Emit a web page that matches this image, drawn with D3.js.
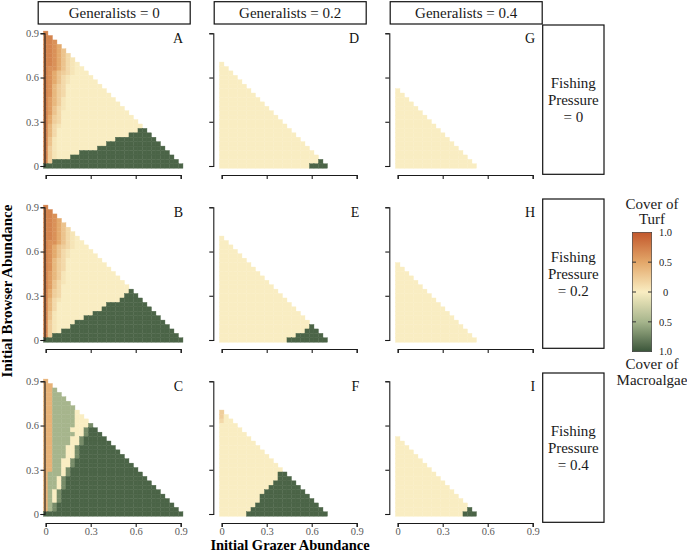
<!DOCTYPE html>
<html><head><meta charset="utf-8">
<script src="https://cdn.jsdelivr.net/npm/d3@7"></script>
<style>
body{margin:0;background:#fff}
svg{display:block;font-family:"Liberation Serif","DejaVu Serif",serif}
text{font-family:"Liberation Serif","DejaVu Serif",serif}
</style>
</head><body>
<svg id="chart" width="687" height="553"></svg>
<script>
// ---------------- data ----------------
const generalistLevels = ["0", "0.2", "0.4"];
const fishingLevels = ["0", "0.2", "0.4"];
const panelLetters = ["A", "B", "C", "D", "E", "F", "G", "H", "I"]; // column by column
const axisTicks = [0, 0.3, 0.6, 0.9];
const axisTickLabels = ["0", "0.3", "0.6", "0.9"];
const legendValues = [1, 0.5, 0, -0.5, -1];
const legendLabels = ["1.0", "0.5", "0", "0.5", "1.0"];
const legendInnerTicks = [0.5, 0, -0.5];
const cellStep = 0.03;
// cover value of each cell code: positive = turf, negative = macroalgae
const cellCodes = {
  R: 0.72, S: 0.64, O: 0.56, P: 0.48, L: 0.42, o: 0.38, Q: 0.3, q: 0.22, u: 0.14, w: 0.06,
  ".": 0, G: -0.5, h: -0.72, M: -0.92
};

// rows are listed from the top row down to the bottom row (initial browser = 0)
// each token: code followed by a repeat count
const panelA = [
  "R", "R2", "R2 S", "R2 S P", "R2 S P Q", "R2 S P Q u", "R2 S P Q u w", "R2 S P Q u w .",
  "R S2 P Q u w .2", "R S P Q q u w .3", "R S P Q u w .5", "R S P Q u w .6",
  "R S o q u .8", "R S o q u .9", "R S o q u .10", "R O o q w .11", "R O o q w .12",
  "R O Q u w .13", "R O Q u .15", "R P q u .16", "R P q u .17",
  "R o u w .18", "R o u .18 M2", "R o u .16 M5", "R Q w .13 M9", "R Q w .11 M12",
  "R q w .9 M15", "R q w .5 M20", "R q w .3 M23", "R q M28", "M31"
];
const panelB = [
  "R", "R2", "R2 S", "R2 S P", "R2 S P Q", "R2 S P Q u", "R2 S P Q u w", "R2 S P Q u w .",
  "R S2 P Q u w .2", "R S P Q q u w .3", "R S P Q u w .5", "R S P Q u w .6",
  "R S o q u .8", "R S o q u .9", "R S o q u .10", "R O o q w .11", "R O o q w .12",
  "R O Q u w .13", "R O Q u .15", "R P q u .15 M", "R P q u .14 M3",
  "R o u w .13 M5", "R o u .11 M9", "R o u .10 M11", "R Q w .8 M14", "R Q w .6 M17",
  "R q w .4 M20", "R q w .3 M22", "R q w . M25", "R q M28", "M31"
];
const panelC = [
  "L", "L2", "L2 G", "L2 G2", "L2 G3", "L2 G4", "L2 G5", "L2 G5 .", "L2 G5 .2",
  "L2 G5 .3", "L2 G5 .3 h", "L2 G4 .3 h M2", "L2 G5 .2 h M3", "L2 G4 .2 h M5",
  "L2 G4 .2 h M6", "L2 G3 .2 h M8", "L2 G3 .2 h M9", "L2 G3 .2 h M10",
  "L2 G2 .2 h M12", "L2 G2 .2 h M13", "L2 G2 . h M15", "L G3 . h M16",
  "L G2 . h M18", "L G2 . h M19", "L G2 . h M20", "L G . h M22", "L G . h M23",
  "L G . h M24", "L G h M26", "L G h M27", "M31"
];
const panelD = [
  ".1", ".2", ".3", ".4", ".5", ".6", ".7", ".8", ".9", ".10", ".11", ".12",
  ".13", ".14", ".15", ".16", ".17", ".18", ".19", ".20", ".21", ".22",
  ".22 M", ".20 M4"
];
const panelE = [
  ".1", ".2", ".3", ".4", ".5", ".6", ".7", ".8", ".9", ".10", ".11", ".12",
  ".13", ".14", ".15", ".16", ".17", ".18", ".19", ".20",
  ".20 M", ".19 M3", ".17 M6", ".15 M9"
];
const panelF = [
  "q", "q .", "u .2", ".4", ".5", ".6", ".7", ".8", ".9", ".10", ".11", ".12",
  ".13", ".14", ".13 M2", ".13 M3", ".12 M5", ".11 M7", ".10 M9", ".9 M11",
  ".9 M12", ".8 M14", ".7 M16", ".6 M18"
];
const panelG = [
  ".1", ".2", ".3", ".4", ".5", ".6", ".7", ".8", ".9", ".10", ".11", ".12",
  ".13", ".14", ".15", ".16", ".17", ".18"
];
const panelH = [
  ".1", ".2", ".3", ".4", ".5", ".6", ".7", ".8", ".9", ".10", ".11", ".12",
  ".13", ".14", ".15", ".16", ".17", ".18"
];
const panelI = [
  ".1", ".2", ".3", ".4", ".5", ".6", ".7", ".8", ".9", ".10", ".11", ".12",
  ".13", ".14", ".15", ".16", ".16 M", ".15 M3"
];

// ---------------- drawing ----------------
const panels = [panelA, panelB, panelC, panelD, panelE, panelF, panelG, panelH, panelI];
const svg = d3.select("#chart");
const serif = '"Liberation Serif", "DejaVu Serif", serif';
const color = d3.scaleLinear()
  .domain([-1, -0.5, 0, 0.5, 1])
  .range(["#3a553a", "#a6b58c", "#f9edc2", "#e3a769", "#c2572c"]);

const colX0 = [45.7, 221.7, 397.7];
const rowY0 = [166, 340, 514];
const yAxisX = [44.5, 213.3, 389.3];
const plotW = 135, plotH = 132.7;

function parseRow(str) {
  const out = [];
  str.trim().split(/\s+/).forEach(tok => {
    const ch = tok[0];
    const n = tok.length > 1 ? +tok.slice(1) : 1;
    for (let k = 0; k < n; k++) out.push(cellCodes[ch]);
  });
  return out;
}

function styleAxis(g) {
  g.attr("font-family", serif);
  g.select(".domain").attr("stroke", "#1a1a1a").attr("stroke-width", 1.1);
  g.selectAll(".tick line").attr("stroke", "#1a1a1a").attr("stroke-width", 1.1);
  g.selectAll(".tick text").attr("fill", "#5a5a5a")
    .style("font-family", serif).style("font-size", "10.5px");
}

function label(x, y, t, size, opts = {}) {
  const el = svg.append("text").attr("x", x).attr("y", y)
    .attr("text-anchor", opts.anchor || "middle")
    .style("font-family", serif).style("font-size", size + "px")
    .attr("fill", opts.fill || "#1a1a1a").text(t);
  if (opts.bold) el.style("font-weight", "bold");
  if (opts.transform) el.attr("transform", opts.transform);
  return el;
}

panels.forEach((rows, p) => {
  const c = Math.floor(p / 3), r = p % 3;
  const x = d3.scaleLinear().domain([0, 0.9]).range([colX0[c], colX0[c] + plotW]);
  const y = d3.scaleLinear().domain([0, 0.9]).range([rowY0[r], rowY0[r] - plotH]);
  const cells = [];
  rows.forEach((s, k) => {
    const j = rows.length - 1 - k;
    parseRow(s).forEach((v, i) => cells.push({ gx: i * cellStep, gy: j * cellStep, v }));
  });
  const g = svg.append("g");
  g.selectAll("rect").data(cells).join("rect")
    .attr("x", d => x(d.gx - cellStep / 2))
    .attr("y", d => y(d.gy + cellStep / 2))
    .attr("width", x(cellStep) - x(0))
    .attr("height", y(0) - y(cellStep))
    .attr("fill", d => color(d.v))
    .attr("stroke", d => color(d.v))
    .attr("stroke-width", 0.4);

  const ya = d3.axisLeft(y).tickValues(axisTicks).tickSizeInner(4).tickSizeOuter(4).tickPadding(1.5)
    .tickFormat((d, i) => c === 0 ? axisTickLabels[i] : "");
  svg.append("g").attr("transform", `translate(${yAxisX[c]},0)`).call(ya).call(styleAxis);

  const xa = d3.axisBottom(x).tickValues(axisTicks).tickSizeInner(4).tickSizeOuter(4).tickPadding(1)
    .tickFormat((d, i) => r === 2 ? axisTickLabels[i] : "");
  const xg = svg.append("g").attr("transform", `translate(0,${rowY0[r] + 9})`).call(xa).call(styleAxis);
  xg.selectAll(".tick text").attr("dy", "0.62em");

  label(x(0.9) + 2.5, y(0.9) + 9.5, panelLetters[p], 14, { anchor: "end", fill: "#111" });
});

// top strips
generalistLevels.forEach((lv, c) => {
  const bx = colX0[c] - 7.5;
  svg.append("rect").attr("x", bx).attr("y", 1.7).attr("width", 152).attr("height", 22.3)
    .attr("fill", "#fff").attr("stroke", "#111").attr("stroke-width", 1.2);
  label(bx + 76, 18.3, "Generalists = " + lv, 15);
});

// right strips
fishingLevels.forEach((lv, r) => {
  const by = 25 + 174 * r;
  svg.append("rect").attr("x", 542.7).attr("y", by).attr("width", 61.3).attr("height", 149.3)
    .attr("fill", "#fff").attr("stroke", "#111").attr("stroke-width", 1.2);
  ["Fishing", "Pressure", "= " + lv].forEach((t, k) => label(573.3, by + 62.7 + 17 * k, t, 15));
});

// axis titles
label(290, 549.6, "Initial Grazer Abundance", 14.5, { bold: true, fill: "#000" });
label(0, 0, "Initial Browser Abundance", 15, { bold: true, fill: "#000", transform: "translate(11.5,291) rotate(-90)" });

// legend
const ly = d3.scaleLinear().domain([-1, 1]).range([351.7, 232.3]);
const defs = svg.append("defs");
const grad = defs.append("linearGradient").attr("id", "lg").attr("x1", 0).attr("y1", 0).attr("x2", 0).attr("y2", 1);
d3.range(0, 21).forEach(k => {
  const v = 1 - k / 10;
  grad.append("stop").attr("offset", (k / 20 * 100) + "%").attr("stop-color", color(v));
});
svg.append("rect").attr("x", 632.3).attr("y", ly(1)).attr("width", 19.4).attr("height", ly(-1) - ly(1))
  .attr("fill", "url(#lg)").attr("stroke", "#333").attr("stroke-width", 0.6);
legendInnerTicks.forEach(v => {
  svg.append("line").attr("x1", 632.3).attr("x2", 636).attr("y1", ly(v)).attr("y2", ly(v))
    .attr("stroke", "#333").attr("stroke-width", 1);
  svg.append("line").attr("x1", 648).attr("x2", 651.7).attr("y1", ly(v)).attr("y2", ly(v))
    .attr("stroke", "#333").attr("stroke-width", 1);
});
legendValues.forEach((v, k) => {
  label(665.5, ly(v), legendLabels[k], 10.5, { fill: "#222" }).attr("dy", "0.35em");
});
[["Cover of", 208.5], ["Turf", 224], ["Cover of", 369], ["Macroalgae", 385]].forEach(([t, yy]) => label(652, yy, t, 15));
</script>
</body></html>
